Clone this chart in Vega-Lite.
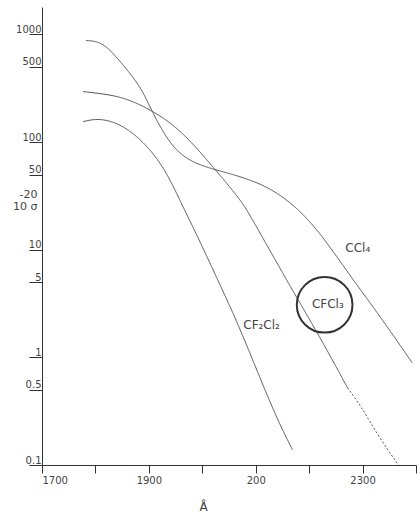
{
  "$schema": "https://vega.github.io/schema/vega-lite/v6.json",
  "width": 374,
  "height": 458,
  "autosize": {"type": "none"},
  "padding": {"left": 42, "top": 7, "right": 1, "bottom": 52},
  "background": "white",
  "config": {"view": {"stroke": null}, "font": "DejaVu Sans"},
  "datasets": {
    "curves": [
      {"s": "CCl4", "part": "solid", "w": 1782, "v": 879},
      {"s": "CCl4", "part": "solid", "w": 1814, "v": 860},
      {"s": "CCl4", "part": "solid", "w": 1848, "v": 550},
      {"s": "CCl4", "part": "solid", "w": 1885, "v": 328},
      {"s": "CCl4", "part": "solid", "w": 1904, "v": 200},
      {"s": "CCl4", "part": "solid", "w": 1941, "v": 91},
      {"s": "CCl4", "part": "solid", "w": 1979, "v": 65},
      {"s": "CCl4", "part": "solid", "w": 2025, "v": 55},
      {"s": "CCl4", "part": "solid", "w": 2115, "v": 42},
      {"s": "CCl4", "part": "solid", "w": 2184, "v": 23.6},
      {"s": "CCl4", "part": "solid", "w": 2234, "v": 11.6},
      {"s": "CCl4", "part": "solid", "w": 2278, "v": 5.6},
      {"s": "CCl4", "part": "solid", "w": 2328, "v": 2.6},
      {"s": "CCl4", "part": "solid", "w": 2393, "v": 0.89},
      {"s": "CFCl3", "part": "solid", "w": 1777, "v": 295},
      {"s": "CFCl3", "part": "solid", "w": 1829, "v": 275},
      {"s": "CFCl3", "part": "solid", "w": 1861, "v": 250},
      {"s": "CFCl3", "part": "solid", "w": 1904, "v": 200},
      {"s": "CFCl3", "part": "solid", "w": 1960, "v": 131},
      {"s": "CFCl3", "part": "solid", "w": 2025, "v": 55},
      {"s": "CFCl3", "part": "solid", "w": 2072, "v": 29},
      {"s": "CFCl3", "part": "solid", "w": 2091, "v": 20.3},
      {"s": "CFCl3", "part": "solid", "w": 2165, "v": 4.5},
      {"s": "CFCl3", "part": "solid", "w": 2218, "v": 1.62},
      {"s": "CFCl3", "part": "solid", "w": 2272, "v": 0.52},
      {"s": "CFCl3 tail", "part": "dotted", "w": 2272, "v": 0.52},
      {"s": "CFCl3 tail", "part": "dotted", "w": 2296, "v": 0.36},
      {"s": "CFCl3 tail", "part": "dotted", "w": 2328, "v": 0.19},
      {"s": "CFCl3 tail", "part": "dotted", "w": 2367, "v": 0.1},
      {"s": "CF2Cl2", "part": "solid", "w": 1777, "v": 155},
      {"s": "CF2Cl2", "part": "solid", "w": 1810, "v": 169},
      {"s": "CF2Cl2", "part": "solid", "w": 1861, "v": 139},
      {"s": "CF2Cl2", "part": "solid", "w": 1922, "v": 69},
      {"s": "CF2Cl2", "part": "solid", "w": 1960, "v": 27.4},
      {"s": "CF2Cl2", "part": "solid", "w": 1997, "v": 11.6},
      {"s": "CF2Cl2", "part": "solid", "w": 2035, "v": 4.5},
      {"s": "CF2Cl2", "part": "solid", "w": 2066, "v": 2.1},
      {"s": "CF2Cl2", "part": "solid", "w": 2104, "v": 0.72},
      {"s": "CF2Cl2", "part": "solid", "w": 2141, "v": 0.26},
      {"s": "CF2Cl2", "part": "solid", "w": 2169, "v": 0.138}
    ],
    "labels": [
      {"text": "CCl₄", "w": 2291, "v": 10.4},
      {"text": "CFCl₃", "w": 2235, "v": 3.1},
      {"text": "CF₂Cl₂", "w": 2111, "v": 2.0}
    ],
    "ring": [
      {"w": 2229, "v": 3.08}
    ]
  },
  "layer": [
    {
      "data": {"name": "curves"},
      "mark": {"type": "line", "strokeWidth": 1, "color": "#555", "interpolate": "basis"},
      "encoding": {
        "x": {
          "field": "w", "type": "quantitative",
          "scale": {"domain": [1700, 2400], "nice": false, "zero": false},
          "axis": {
            "values": [1700, 1800, 1900, 2000, 2100, 2200, 2300, 2400],
            "labelExpr": "datum.value == 1700 ? '1700' : datum.value == 1900 ? '1900' : datum.value == 2100 ? '200' : datum.value == 2300 ? '2300' : ''",
            "grid": false, "tickSize": 8, "domainColor": "#333", "tickColor": "#333",
            "labelColor": "#444", "labelFontSize": 10, "labelPadding": 2,
            "title": "Å", "titleFontSize": 12, "titleFontWeight": "normal", "titleColor": "#444",
            "titleX": 161, "titleY": 41, "titleBaseline": "middle", "titleAnchor": null
          }
        },
        "y": {
          "field": "v", "type": "quantitative",
          "scale": {"type": "log", "domain": [0.1, 1800], "nice": false},
          "axis": {
            "values": [0.1, 0.5, 1, 5, 10, 50, 100, 500, 1000],
            "labelExpr": "'' + datum.value",
            "grid": false, "tickSize": 13, "labelPadding": -12, "labelBaseline": "bottom",
            "domainColor": "#333", "tickColor": "#333",
            "labelColor": "#444", "labelFontSize": 10,
            "title": ["-20", "10 σ"], "titleAngle": 0, "titleAlign": "right", "titleBaseline": "top",
            "titleX": -5, "titleY": 181, "titleFontSize": 11, "titleFontWeight": "normal",
            "titleColor": "#444", "titleLineHeight": 12
          }
        },
        "detail": {"field": "s"},
        "strokeDash": {
          "field": "part", "type": "nominal",
          "scale": {"domain": ["solid", "dotted"], "range": [[1, 0], [2, 2]]},
          "legend": null
        }
      }
    },
    {
      "data": {"name": "labels"},
      "mark": {"type": "text", "fontSize": 12, "color": "#444"},
      "encoding": {
        "x": {"field": "w", "type": "quantitative"},
        "y": {"field": "v", "type": "quantitative"},
        "text": {"field": "text"}
      }
    },
    {
      "data": {"name": "ring"},
      "mark": {"type": "point", "shape": "circle", "size": 3100, "filled": false, "strokeWidth": 2, "color": "#333", "opacity": 1},
      "encoding": {
        "x": {"field": "w", "type": "quantitative"},
        "y": {"field": "v", "type": "quantitative"}
      }
    }
  ]
}
